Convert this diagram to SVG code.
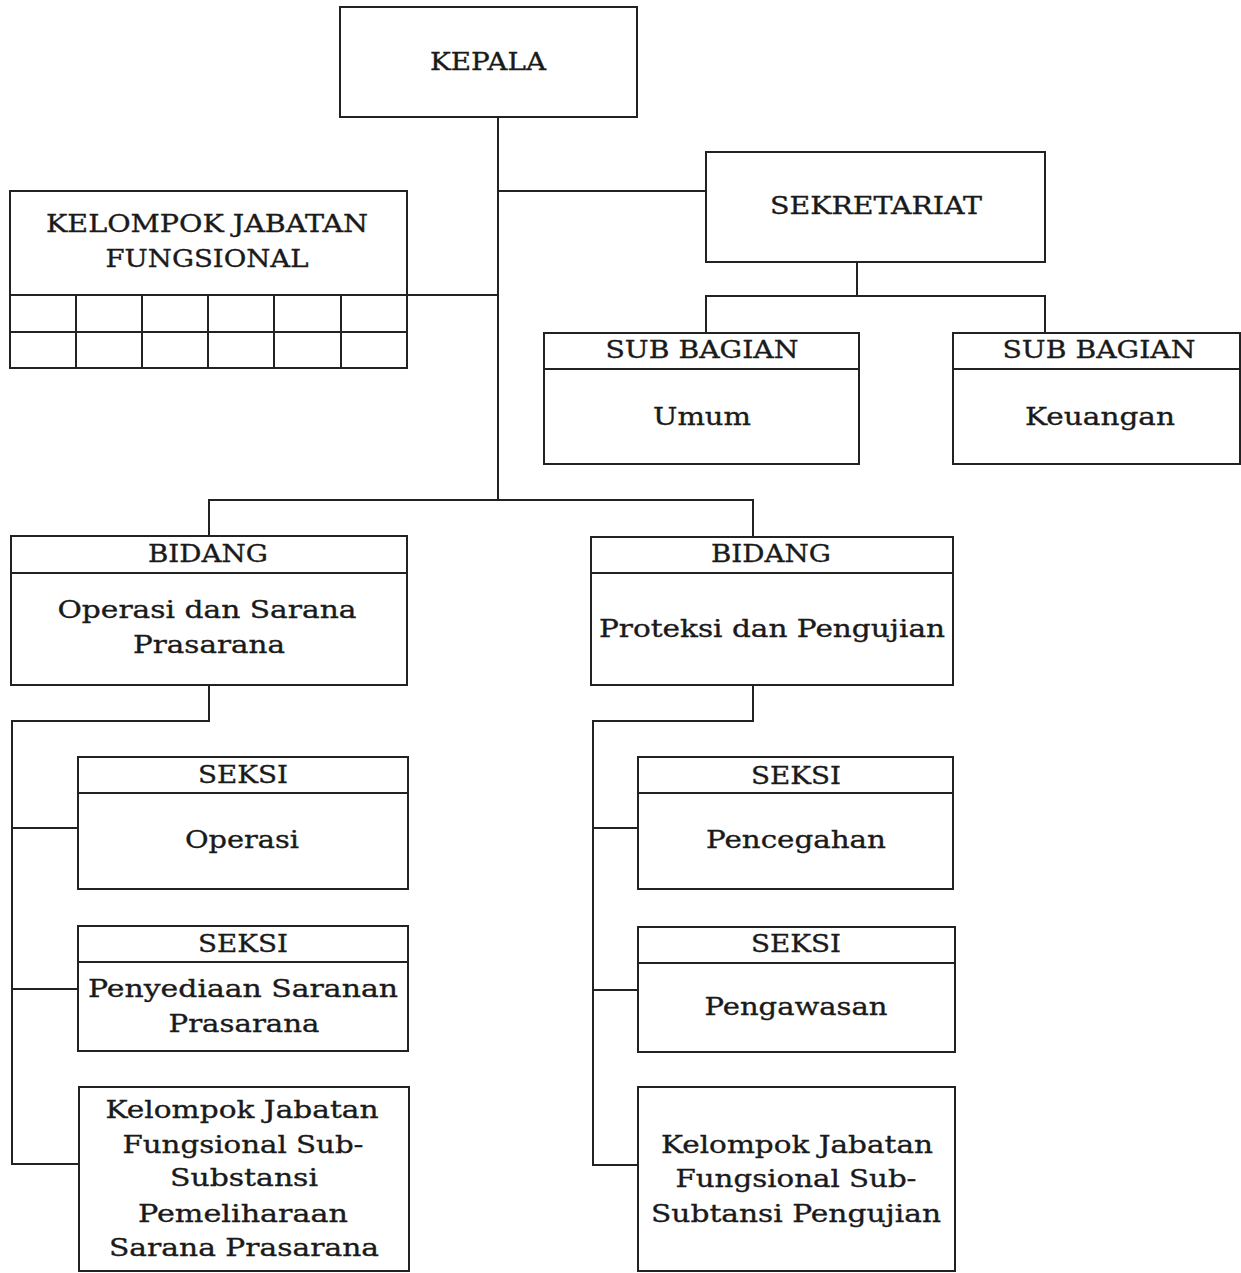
<svg xmlns="http://www.w3.org/2000/svg" width="1241" height="1273" viewBox="0 0 1241 1273">
<style>
rect,line,polyline{fill:none;stroke:#222;stroke-width:2}
rect.bg{fill:#fff;stroke:none}
text{font-family:"DejaVu Serif","Liberation Serif",serif;font-size:25px;fill:#1a1a1a;stroke:#1a1a1a;stroke-width:0.35;text-anchor:middle}
</style>
<rect class="bg" x="0" y="0" width="1241" height="1273"/>
<g id="connectors">
<line x1="498" y1="117" x2="498" y2="500"/>
<line x1="498" y1="191" x2="706" y2="191"/>
<line x1="407" y1="295" x2="498" y2="295"/>
<line x1="857" y1="262" x2="857" y2="296"/>
<polyline points="706,333 706,296 1045,296 1045,333"/>
<polyline points="209,536 209,500 753,500 753,537"/>
<polyline points="209,685 209,721 12,721 12,1164 79,1164"/>
<line x1="12" y1="828" x2="78" y2="828"/>
<line x1="12" y1="989" x2="78" y2="989"/>
<polyline points="753,685 753,721 593,721 593,1165 638,1165"/>
<line x1="593" y1="828" x2="638" y2="828"/>
<line x1="593" y1="990" x2="638" y2="990"/>
</g>
<g id="kepala">
<rect x="340" y="7" width="297" height="110"/>
<text x="488" y="70" textLength="116" lengthAdjust="spacingAndGlyphs">KEPALA</text>
</g>
<g id="kelompok-jabatan-fungsional">
<rect x="10" y="191" width="397" height="177"/>
<line x1="10" y1="295" x2="407" y2="295"/>
<line x1="10" y1="332" x2="407" y2="332"/>
<line x1="76" y1="295" x2="76" y2="368"/>
<line x1="142" y1="295" x2="142" y2="368"/>
<line x1="208" y1="295" x2="208" y2="368"/>
<line x1="274" y1="295" x2="274" y2="368"/>
<line x1="341" y1="295" x2="341" y2="368"/>
<text x="207" y="232" textLength="322" lengthAdjust="spacingAndGlyphs">KELOMPOK JABATAN</text>
<text x="207" y="267" textLength="203" lengthAdjust="spacingAndGlyphs">FUNGSIONAL</text>
</g>
<g id="sekretariat">
<rect x="706" y="152" width="339" height="110"/>
<text x="876" y="214" textLength="212" lengthAdjust="spacingAndGlyphs">SEKRETARIAT</text>
</g>
<g id="subbag-umum">
<rect x="544" y="333" width="315" height="131"/>
<line x1="544" y1="369" x2="859" y2="369"/>
<text x="702" y="358" textLength="193" lengthAdjust="spacingAndGlyphs">SUB BAGIAN</text>
<text x="702" y="425" textLength="98" lengthAdjust="spacingAndGlyphs">Umum</text>
</g>
<g id="subbag-keuangan">
<rect x="953" y="333" width="287" height="131"/>
<line x1="953" y1="369" x2="1240" y2="369"/>
<text x="1099" y="358" textLength="193" lengthAdjust="spacingAndGlyphs">SUB BAGIAN</text>
<text x="1100" y="425" textLength="150" lengthAdjust="spacingAndGlyphs">Keuangan</text>
</g>
<g id="bidang-operasi">
<rect x="11" y="536" width="396" height="149"/>
<line x1="11" y1="573" x2="407" y2="573"/>
<text x="208" y="562" textLength="120" lengthAdjust="spacingAndGlyphs">BIDANG</text>
<text x="207" y="618" textLength="299" lengthAdjust="spacingAndGlyphs">Operasi dan Sarana</text>
<text x="209" y="653" textLength="152" lengthAdjust="spacingAndGlyphs">Prasarana</text>
</g>
<g id="bidang-proteksi">
<rect x="591" y="537" width="362" height="148"/>
<line x1="591" y1="573" x2="953" y2="573"/>
<text x="771" y="562" textLength="120" lengthAdjust="spacingAndGlyphs">BIDANG</text>
<text x="772" y="637" textLength="346" lengthAdjust="spacingAndGlyphs">Proteksi dan Pengujian</text>
</g>
<g id="seksi-operasi">
<rect x="78" y="757" width="330" height="132"/>
<line x1="78" y1="793" x2="408" y2="793"/>
<text x="243" y="783" textLength="90" lengthAdjust="spacingAndGlyphs">SEKSI</text>
<text x="242" y="848" textLength="114" lengthAdjust="spacingAndGlyphs">Operasi</text>
</g>
<g id="seksi-penyediaan">
<rect x="78" y="926" width="330" height="125"/>
<line x1="78" y1="962" x2="408" y2="962"/>
<text x="243" y="952" textLength="90" lengthAdjust="spacingAndGlyphs">SEKSI</text>
<text x="243" y="997" textLength="310" lengthAdjust="spacingAndGlyphs">Penyediaan Saranan</text>
<text x="244" y="1032" textLength="151" lengthAdjust="spacingAndGlyphs">Prasarana</text>
</g>
<g id="kjf-pemeliharaan">
<rect x="79" y="1087" width="330" height="184"/>
<text x="242" y="1118" textLength="273" lengthAdjust="spacingAndGlyphs">Kelompok Jabatan</text>
<text x="243" y="1153" textLength="241" lengthAdjust="spacingAndGlyphs">Fungsional Sub-</text>
<text x="244" y="1186" textLength="148" lengthAdjust="spacingAndGlyphs">Substansi</text>
<text x="243" y="1222" textLength="210" lengthAdjust="spacingAndGlyphs">Pemeliharaan</text>
<text x="244" y="1256" textLength="270" lengthAdjust="spacingAndGlyphs">Sarana Prasarana</text>
</g>
<g id="seksi-pencegahan">
<rect x="638" y="757" width="315" height="132"/>
<line x1="638" y1="793" x2="953" y2="793"/>
<text x="796" y="784" textLength="90" lengthAdjust="spacingAndGlyphs">SEKSI</text>
<text x="796" y="848" textLength="180" lengthAdjust="spacingAndGlyphs">Pencegahan</text>
</g>
<g id="seksi-pengawasan">
<rect x="638" y="927" width="317" height="125"/>
<line x1="638" y1="963" x2="955" y2="963"/>
<text x="796" y="952" textLength="90" lengthAdjust="spacingAndGlyphs">SEKSI</text>
<text x="796" y="1015" textLength="183" lengthAdjust="spacingAndGlyphs">Pengawasan</text>
</g>
<g id="kjf-pengujian">
<rect x="638" y="1087" width="317" height="184"/>
<text x="797" y="1153" textLength="272" lengthAdjust="spacingAndGlyphs">Kelompok Jabatan</text>
<text x="796" y="1187" textLength="241" lengthAdjust="spacingAndGlyphs">Fungsional Sub-</text>
<text x="796" y="1222" textLength="290" lengthAdjust="spacingAndGlyphs">Subtansi Pengujian</text>
</g>
</svg>
